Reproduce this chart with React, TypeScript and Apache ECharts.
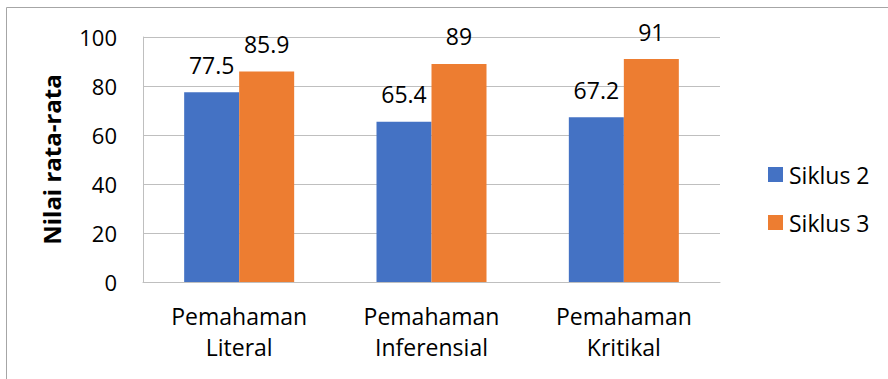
import React, { useEffect, useRef } from "react";
import * as echarts from "echarts";

const categories = ["Pemahaman\nLiteral", "Pemahaman\nInferensial", "Pemahaman\nKritikal"];
const siklus2 = [77.5, 65.4, 67.2];
const siklus3 = [85.9, 89, 91];
const seriesNames = ["Siklus 2", "Siklus 3"];
const yAxisTitle = "Nilai rata-rata";

const FONT = "'Open Sans', 'Noto Sans', sans-serif";

export default function App() {
  const ref = useRef<HTMLDivElement>(null);
  useEffect(() => {
    if (!ref.current) return;
    const chart = echarts.init(ref.current, undefined, { renderer: "svg" });
    const label = {
      show: true,
      position: "top" as const,
      distance: 16,
      color: "#000",
      fontFamily: FONT,
      fontSize: 23,
    };
    chart.setOption({
      animation: false,
      backgroundColor: "#fff",
      textStyle: { fontFamily: FONT },
      grid: { left: 143, right: 168, top: 37, bottom: 97, containLabel: false },
      legend: {
        orient: "vertical",
        left: 763,
        top: 158,
        itemWidth: 15,
        itemHeight: 15,
        itemGap: 25,
        icon: "rect",
        textStyle: { fontFamily: FONT, fontSize: 23, color: "#000", padding: [0, 0, 0, 1] },
        data: seriesNames,
      },
      xAxis: {
        type: "category",
        data: categories,
        axisLine: { show: true, lineStyle: { color: "#bfbfbf", width: 1 } },
        axisTick: { show: false },
        axisLabel: {
          color: "#000",
          fontFamily: FONT,
          fontSize: 23,
          lineHeight: 31,
          margin: 18,
          interval: 0,
        },
      },
      yAxis: {
        type: "value",
        min: 0,
        max: 100,
        interval: 20,
        name: yAxisTitle,
        nameLocation: "middle",
        nameGap: 80,
        nameTextStyle: { fontFamily: FONT, fontSize: 24, fontWeight: "bold", color: "#000" },
        axisLine: { show: true, lineStyle: { color: "#bfbfbf", width: 1 } },
        axisTick: { show: false },
        axisLabel: { color: "#000", fontFamily: FONT, fontSize: 22, margin: 26 },
        splitLine: { show: true, lineStyle: { color: "#bfbfbf", width: 1 } },
      },
      graphic: [
        {
          type: "rect",
          shape: { x: 6.5, y: 7.5, width: 900, height: 400 },
          style: { fill: "none", stroke: "#a6a6a6", lineWidth: 1 },
          silent: true,
        },
      ],
      series: [
        {
          name: seriesNames[0],
          type: "bar",
          data: siklus2,
          barWidth: 55,
          barGap: "0%",
          itemStyle: { color: "#4472C4" },
          label,
        },
        {
          name: seriesNames[1],
          type: "bar",
          data: siklus3,
          barWidth: 55,
          barGap: "0%",
          itemStyle: { color: "#ED7D31" },
          label,
        },
      ],
    });
    return () => chart.dispose();
  }, []);
  return (
    <div
      ref={ref}
      style={{ position: "fixed", left: 0, top: 0, width: 888, height: 379 }}
    />
  );
}
